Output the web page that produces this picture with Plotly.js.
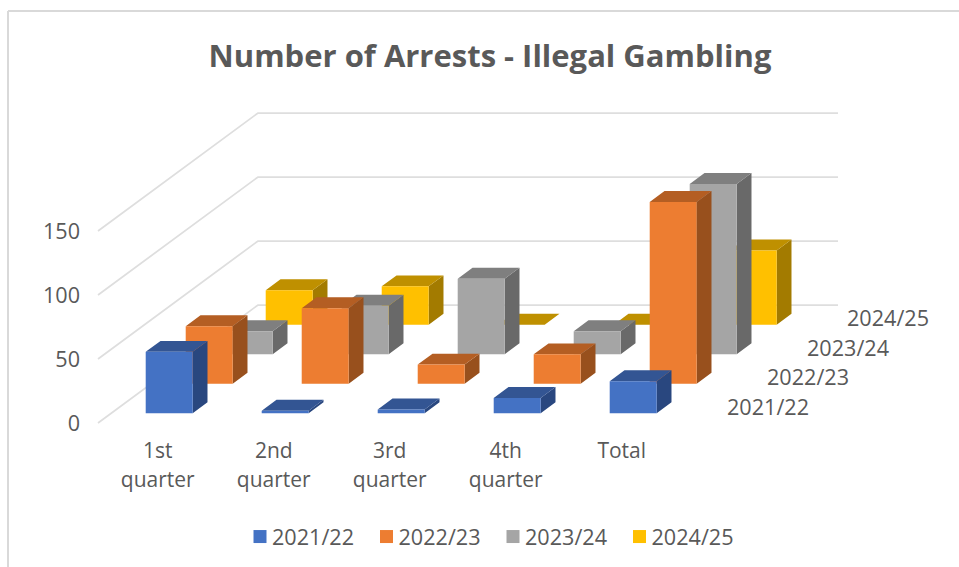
<!DOCTYPE html>
<html>
<head>
<meta charset="utf-8">
<script src="https://cdn.plot.ly/plotly-3.0.1.min.js"></script>
<style>html,body{margin:0;padding:0;background:#fff}</style>
</head>
<body>
<div id="chart" style="width:959px;height:567px"></div>
<script>
// Quarterly arrests per financial year
const categories = ["1st|quarter", "2nd|quarter", "3rd|quarter", "4th|quarter", "Total"];
const years = ["2021/22", "2022/23", "2023/24", "2024/25"];
const arrests2122 = [48, 2, 3, 12, 25];
const arrests2223 = [45, 59, 15, 23, 142];
const arrests2324 = [18, 38, 59, 18, 133];
const arrests2425 = [27, 30, 0, 0, 58];
const gridLevels = [0, 50, 100, 150];

const seriesValues = [arrests2122, arrests2223, arrests2324, arrests2425];
const frontColors = ["#4472C4", "#ED7D31", "#A5A5A5", "#FFC000"];
const sideColors = ["#29477F", "#98501D", "#696969", "#A37B00"];
const topColors = ["#335593", "#B45E23", "#7F7F7F", "#BF9000"];

// Oblique projection: each depth row shifts right and up in axis units
const PX_PER_CAT = 116, PX_PER_UNIT = 1.28;
const DX = 40 / PX_PER_CAT, DY = 29.5 / PX_PER_UNIT;
const BAR_W = 0.405, BAR_DEPTH = 0.37, ROW_INSET = 0.33;
const project = (cat, depth, val) => [cat + depth * DX, val + depth * DY];

function polygons(list) {
  const x = [], y = [];
  list.forEach(pts => {
    pts.forEach(p => { x.push(p[0]); y.push(p[1]); });
    x.push(null); y.push(null);
  });
  return {x, y};
}

function faceTrace(list, color) {
  const g = polygons(list);
  return {x: g.x, y: g.y, type: "scatter", mode: "none", fill: "toself",
          fillcolor: color, showlegend: false, hoverinfo: "skip"};
}

const traces = [];

// Wall and floor gridlines
const gx = [], gy = [];
gridLevels.forEach(v => {
  [project(-0.5, 0, v), project(-0.5, 4, v), project(4.5, 4, v)].forEach(p => {
    gx.push(p[0]); gy.push(p[1]);
  });
  gx.push(null); gy.push(null);
});
traces.push({x: gx, y: gy, type: "scatter", mode: "lines",
             line: {color: "#DEDEDE", width: 1.75}, showlegend: false, hoverinfo: "skip"});

// Columns, painted from the back row forward
for (let r = years.length - 1; r >= 0; r--) {
  const d0 = r + ROW_INSET, d1 = d0 + BAR_DEPTH;
  const fronts = [], sides = [], tops = [];
  seriesValues[r].forEach((v, i) => {
    const a = i - BAR_W / 2, b = i + BAR_W / 2;
    fronts.push([project(a, d0, 0), project(b, d0, 0), project(b, d0, v), project(a, d0, v)]);
    sides.push([project(b, d0, 0), project(b, d1, 0), project(b, d1, v), project(b, d0, v)]);
    tops.push([project(a, d0, v), project(b, d0, v), project(b, d1, v), project(a, d1, v)]);
  });
  traces.push(faceTrace(sides, sideColors[r]));
  traces.push(faceTrace(tops, topColors[r]));
  traces.push(faceTrace(fronts, frontColors[r]));
}

// Legend entries
years.forEach((name, r) => {
  traces.push({x: [null], y: [null], type: "scatter", mode: "markers", name: name,
               marker: {symbol: "square", size: 13, color: frontColors[r]}, hoverinfo: "skip"});
});

const W = 959, H = 567, L = 81, T = 100, B = 432, X0 = 156, Y0 = 423;
const textColor = "#595959";
const family = "'Open Sans', sans-serif";
const tickFont = {family: family, size: 22.3, color: textColor};
const categoryPx = 21;
const labelPx = 21.6;

const layout = {
  width: W, height: H,
  margin: {l: L, r: 0, t: T, b: H - B, autoexpand: false},
  paper_bgcolor: "#ffffff", plot_bgcolor: "rgba(0,0,0,0)",
  title: {
    text: "Number of Arrests - Illegal Gambling",
    x: 490 / W, xref: "container", xanchor: "center",
    y: 1 - 56 / H, yref: "container", yanchor: "middle",
    font: {family: family, size: 31, weight: 700, color: textColor}
  },
  xaxis: {
    range: [(L - X0) / PX_PER_CAT, (W - X0) / PX_PER_CAT],
    showgrid: false, zeroline: false, showline: false, ticks: "",
    tickmode: "array", tickvals: categories.map((c, i) => i + 0.015),
    ticktext: categories.map(c => c.split("|").map(s =>
      '<span style="font-size:' + categoryPx + 'px">' + s + "</span>").join("<br>")),
    tickfont: tickFont, tickangle: 0, ticklabelstandoff: 3
  },
  yaxis: {
    range: [(Y0 - B) / PX_PER_UNIT, (Y0 - T) / PX_PER_UNIT],
    showgrid: false, zeroline: false, showline: false, ticks: "",
    tickmode: "array", tickvals: gridLevels, ticktext: gridLevels.map(String),
    tickfont: {family: family, size: labelPx, color: textColor}
  },
  legend: {
    orientation: "h", xref: "paper", yref: "paper",
    x: (232 - L) / (W - L), xanchor: "left",
    y: (B - 537) / (B - T), yanchor: "middle",
    font: {family: family, size: labelPx, color: textColor},
    entrywidth: 81.5, entrywidthmode: "pixels", itemclick: false, itemdoubleclick: false
  },
  // Depth-axis labels follow the same projection as the rows
  annotations: years.map((name, r) => {
    const p = project(5.28, r, 13);
    return {x: p[0], y: p[1], xref: "x", yref: "y", text: name, showarrow: false,
            xanchor: "center", yanchor: "middle",
            font: {family: family, size: labelPx, color: textColor}};
  }),
  // Chart frame: top and left edges only
  shapes: [
    {type: "line", xref: "paper", yref: "paper", x0: (8 - L) / (W - L), x1: 1,
     y0: (B - 11) / (B - T), y1: (B - 11) / (B - T), line: {color: "#D9D9D9", width: 2}},
    {type: "line", xref: "paper", yref: "paper", x0: (8 - L) / (W - L), x1: (8 - L) / (W - L),
     y0: (B - 11) / (B - T), y1: (B - H) / (B - T), line: {color: "#D9D9D9", width: 2}}
  ],
  showlegend: true
};

Plotly.newPlot("chart", traces, layout, {displayModeBar: false, staticPlot: false}).then(gd => {
  // Close the gap between each legend swatch and its label
  gd.querySelectorAll(".legend .legendsymbols").forEach(g => g.setAttribute("transform", "translate(8,0)"));
});
</script>
</body>
</html>
